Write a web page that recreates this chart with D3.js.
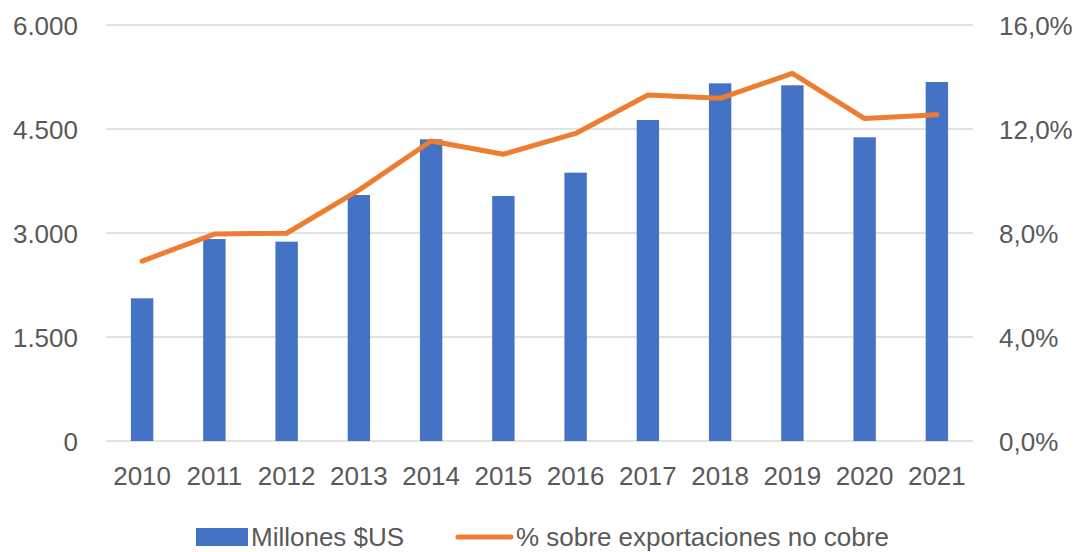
<!DOCTYPE html>
<html>
<head>
<meta charset="utf-8">
<script src="https://cdn.jsdelivr.net/npm/d3@7"></script>
<style>
  body { margin: 0; background: #fff; }
  text { font-family: "Liberation Sans", Arial, sans-serif; fill: #595959; }
</style>
</head>
<body>
<script>
var w = 1078;
var h = 552;

// data
var years = ["2010", "2011", "2012", "2013", "2014", "2015", "2016", "2017", "2018", "2019", "2020", "2021"];
var millones = [2058, 2913, 2875, 3548, 4351, 3534, 3870, 4630, 5159, 5130, 4380, 5178];
var porcentaje = [6.92, 7.96, 7.99, 9.65, 11.54, 11.03, 11.83, 13.31, 13.18, 14.14, 12.40, 12.55];
var leftTicks = [0, 1500, 3000, 4500, 6000];
var rightTicks = [0, 4, 8, 12, 16];
var seriesNames = ["Millones $US", "% sobre exportaciones no cobre"];

var margin = {top: 25, right: 105, bottom: 111, left: 106};
var fontSize = "26px";

var es = d3.formatLocale({decimal: ",", thousands: ".", grouping: [3], currency: ["$", ""]});
var fmtLeft = es.format(",.0f");
var fmtRight = function(d) { return es.format(".1f")(d) + "%"; };

var svg = d3.select("body")
            .append("svg")
            .attr("width", w)
            .attr("height", h);

var xScale = d3.scaleBand()
               .domain(years)
               .range([margin.left, w - margin.right])
               .paddingInner(0.69)
               .paddingOuter(0.345);

var yLeft = d3.scaleLinear()
              .domain([0, 6000])
              .range([h - margin.bottom, margin.top]);

var yRight = d3.scaleLinear()
               .domain([0, 16])
               .range([h - margin.bottom, margin.top]);

//gridlines
svg.append("g")
   .selectAll("line")
   .data(leftTicks)
   .enter()
   .append("line")
   .attr("x1", margin.left)
   .attr("x2", w - margin.right)
   .attr("y1", function(d) { return yLeft(d); })
   .attr("y2", function(d) { return yLeft(d); })
   .attr("stroke", "#d9d9d9")
   .attr("stroke-width", 1.5);

//left axis
var leftAxis = svg.append("g")
   .attr("transform", "translate(" + (margin.left - 28) + ",0)")
   .call(d3.axisLeft(yLeft).tickValues(leftTicks).tickFormat(fmtLeft).tickSize(0));
leftAxis.select(".domain").remove();
leftAxis.selectAll("text").attr("font-size", fontSize).attr("dy", "0.35em").attr("x", 0);

//right axis
var rightAxis = svg.append("g")
   .attr("transform", "translate(" + (w - margin.right + 26) + ",0)")
   .call(d3.axisRight(yRight).tickValues(rightTicks).tickFormat(fmtRight).tickSize(0));
rightAxis.select(".domain").remove();
rightAxis.selectAll("text").attr("font-size", fontSize).attr("dy", "0.35em").attr("x", 0);

//bottom axis
var bottomAxis = svg.append("g")
   .attr("transform", "translate(0," + (h - margin.bottom) + ")")
   .call(d3.axisBottom(xScale).tickSize(0));
bottomAxis.select(".domain").remove();
bottomAxis.selectAll("text").attr("font-size", fontSize).attr("y", 26).attr("dy", "0.71em");

//bars
svg.selectAll("rect.bar")
   .data(millones)
   .enter()
   .append("rect")
   .attr("class", "bar")
   .attr("x", function(d, i) { return xScale(years[i]); })
   .attr("y", function(d) { return yLeft(d); })
   .attr("width", xScale.bandwidth())
   .attr("height", function(d) { return yLeft(0) - yLeft(d); })
   .attr("fill", "#4472c4");

//line
var line = d3.line()
   .x(function(d, i) { return xScale(years[i]) + xScale.bandwidth() / 2; })
   .y(function(d) { return yRight(d); });

svg.append("path")
   .datum(porcentaje)
   .attr("d", line)
   .attr("fill", "none")
   .attr("stroke", "#ed7d31")
   .attr("stroke-width", 5)
   .attr("stroke-linejoin", "round")
   .attr("stroke-linecap", "round");

//legend
var legend = svg.append("g").attr("transform", "translate(0,537)");
legend.append("rect")
      .attr("x", 196).attr("y", -9)
      .attr("width", 52).attr("height", 18)
      .attr("fill", "#4472c4");
legend.append("text")
      .attr("x", 251).attr("dy", "0.35em")
      .attr("font-size", fontSize)
      .text(seriesNames[0]);
legend.append("line")
      .attr("x1", 458).attr("x2", 511)
      .attr("stroke", "#ed7d31")
      .attr("stroke-width", 5)
      .attr("stroke-linecap", "round");
legend.append("text")
      .attr("x", 516).attr("dy", "0.35em")
      .attr("font-size", fontSize)
      .text(seriesNames[1]);
</script>
</body>
</html>
